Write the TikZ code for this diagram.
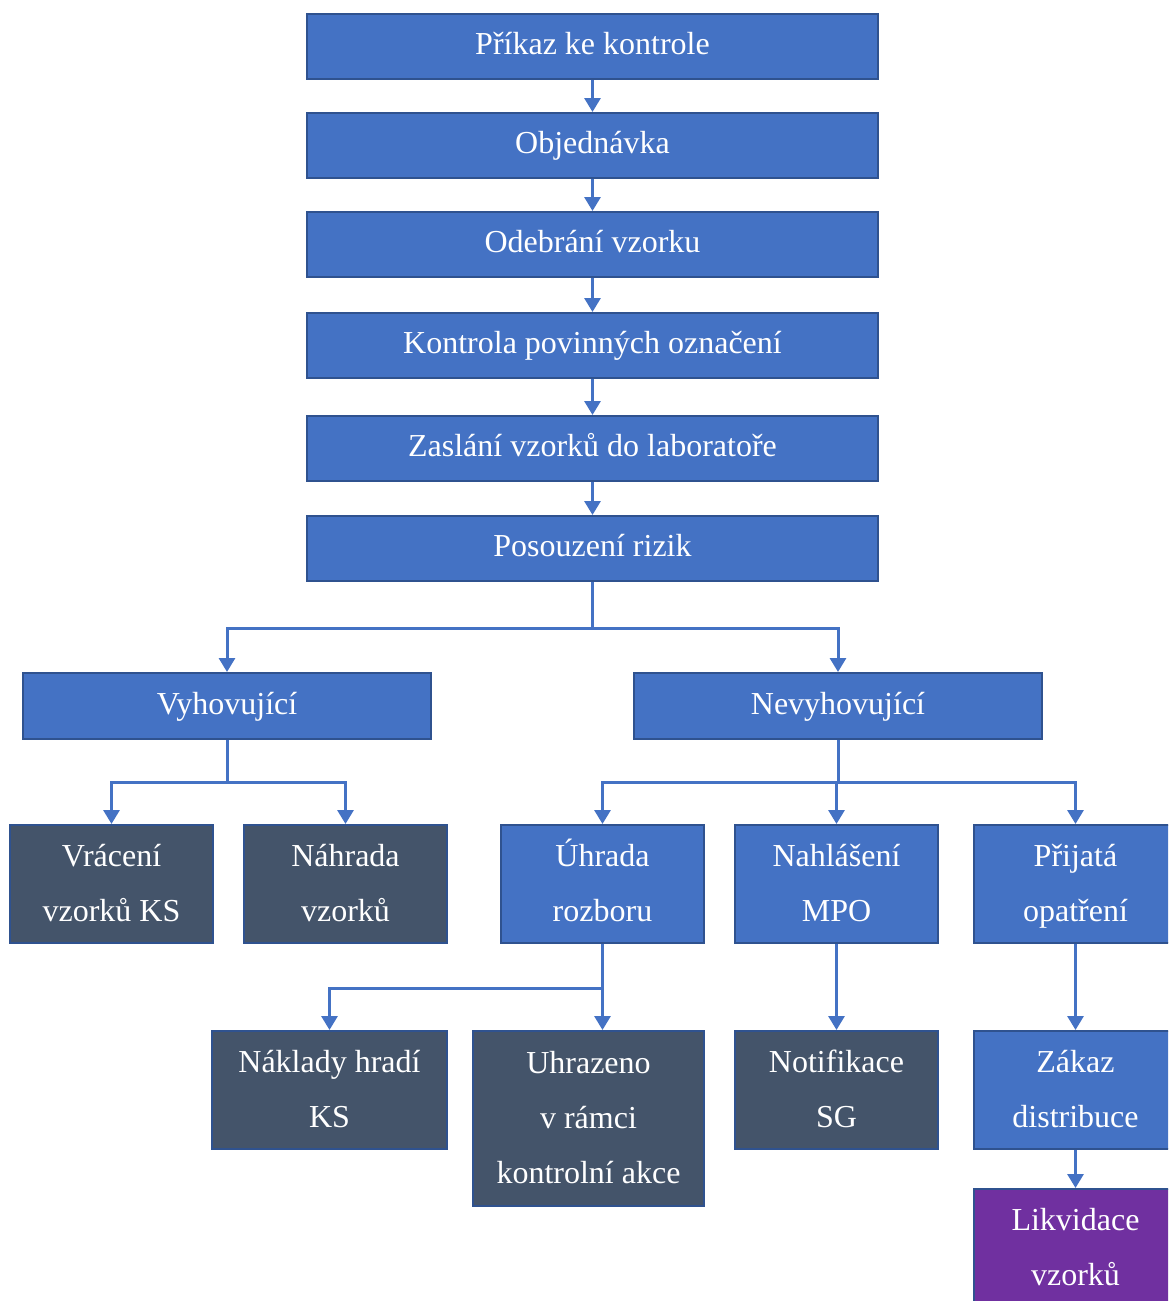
\documentclass[tikz,border=0pt]{standalone}
\usepackage{fontspec}
\setmainfont{Liberation Serif}
\usetikzlibrary{arrows.meta}

\definecolor{modra}{HTML}{4472C4}
\definecolor{okraj}{HTML}{2F528F}
\definecolor{tmava}{HTML}{44546A}
\definecolor{fialova}{HTML}{7030A0}

\begin{document}
\begin{tikzpicture}[x=1pt, y=-1pt,
  krok/.style={draw=okraj, line width=2pt, rectangle, fill=modra, text=white, align=center, inner sep=0pt, text height=22pt, text depth=6pt},
  vysledek/.style={krok, fill=tmava},
  dvaradky/.style={text height=79pt, text depth=5pt},
  triradky/.style={text height=134pt, text depth=5pt},
  spoj/.style={draw=modra, line width=3pt, -{Triangle[width=16pt,length=14pt]}},
  font=\fontsize{32}{55}\selectfont]
\useasboundingbox (0,0) rectangle (1168,1301);
\clip (0,0) rectangle (1168,1301);

% Main chain
\node[krok, minimum width=571, minimum height=65] (prikaz) at (592.5,46.5) {Příkaz ke kontrole};
\node[krok, minimum width=571, minimum height=65] (objednavka) at (592.5,145.5) {Objednávka};
\node[krok, minimum width=571, minimum height=65] (odebrani) at (592.5,244.5) {Odebrání vzorku};
\node[krok, minimum width=571, minimum height=65] (kontrola) at (592.5,345.5) {Kontrola povinných označení};
\node[krok, minimum width=571, minimum height=65] (zaslani) at (592.5,448.5) {Zaslání vzorků do laboratoře};
\node[krok, minimum width=571, minimum height=65] (posouzeni) at (592.5,548.5) {Posouzení rizik};

% Result of the assessment
\node[krok, minimum width=408, minimum height=66] (vyhov) at (227,706) {Vyhovující};
\node[krok, minimum width=408, minimum height=66] (nevyhov) at (838,706) {Nevyhovující};

% Second level
\node[vysledek, dvaradky, minimum width=203, minimum height=118] (vraceni) at (111.5,884) {Vrácení\\vzorků KS};
\node[vysledek, dvaradky, minimum width=203, minimum height=118] (nahrada) at (345.5,884) {Náhrada\\vzorků};
\node[krok, dvaradky, minimum width=203, minimum height=118] (uhrada) at (602.5,884) {Úhrada\\rozboru};
\node[krok, dvaradky, minimum width=203, minimum height=118] (nahlaseni) at (836.5,884) {Nahlášení\\MPO};
\node[krok, dvaradky, minimum width=203, minimum height=118] (prijata) at (1075.5,884) {Přijatá\\opatření};

% Third level
\node[vysledek, dvaradky, minimum width=235, minimum height=118] (naklady) at (329.5,1090) {Náklady hradí\\KS};
\node[vysledek, triradky, minimum width=231, minimum height=175] (uhrazeno) at (588.5,1118.5) {Uhrazeno\\v rámci\\kontrolní akce};
\node[vysledek, dvaradky, minimum width=203, minimum height=118] (notifikace) at (836.5,1090) {Notifikace\\SG};
\node[krok, dvaradky, minimum width=203, minimum height=118] (zakaz) at (1075.5,1090) {Zákaz\\distribuce};
\node[krok, dvaradky, fill=fialova, minimum width=203, minimum height=118] (likvidace) at (1075.5,1248) {Likvidace\\vzorků};

% Arrows
\draw[spoj] (prikaz.south) -- (objednavka.north);
\draw[spoj] (objednavka.south) -- (odebrani.north);
\draw[spoj] (odebrani.south) -- (kontrola.north);
\draw[spoj] (kontrola.south) -- (zaslani.north);
\draw[spoj] (zaslani.south) -- (posouzeni.north);
\draw[spoj] (posouzeni.south) -- ++(0,46) -| (vyhov.north);
\draw[spoj] (posouzeni.south) -- ++(0,46) -| (nevyhov.north);
\draw[spoj] (vyhov.south) -- ++(0,42) -| (vraceni.north);
\draw[spoj] (vyhov.south) -- ++(0,42) -| (nahrada.north);
\draw[spoj] (nevyhov.south) -- ++(0,42) -| (uhrada.north);
\draw[spoj] (nevyhov.south) -- ++(0,42) -| (nahlaseni.north);
\draw[spoj] (nevyhov.south) -- ++(0,42) -| (prijata.north);
\draw[spoj] (uhrada.south) -- ++(0,44) -| (naklady.north);
\draw[spoj] (uhrada.south) -- (uhrada.south |- uhrazeno.north);
\draw[spoj] (nahlaseni.south) -- (notifikace.north);
\draw[spoj] (prijata.south) -- (zakaz.north);
\draw[spoj] (zakaz.south) -- (likvidace.north);
\end{tikzpicture}
\end{document}
